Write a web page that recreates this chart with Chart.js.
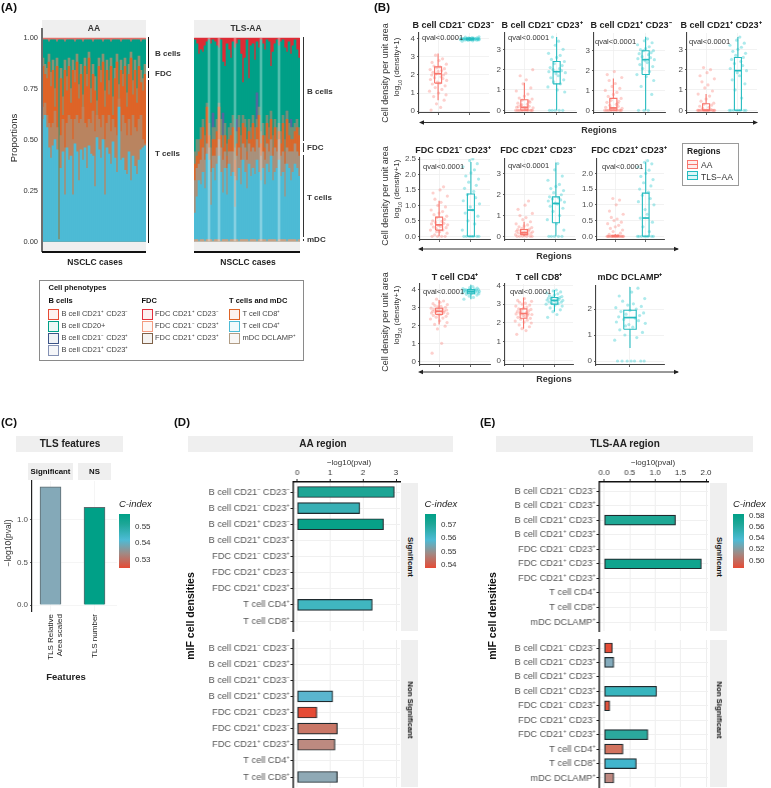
<!DOCTYPE html>
<html><head><meta charset="utf-8">
<style>
html,body{margin:0;padding:0;background:#fff}
#root{position:relative;width:771px;height:788px;overflow:hidden;font-family:"Liberation Sans",Arial,sans-serif;filter:blur(0.35px)}
#root canvas{position:absolute;display:block}
#root canvas.soft{filter:blur(0.65px)}
.t{position:absolute;white-space:nowrap;line-height:1}
.b{position:absolute}
</style>
<script src="https://cdn.jsdelivr.net/npm/chart.js@4"></script>
</head><body><div id="root"></div>
<script>
/* ---------- Panel A: cumulative proportions (%), one value per case ---------- */
const aaCD4=[60,62,56,46,41,47,50,45,1,36,44,23,46,40,42,23,48,44,30,45,40,46,36,47,43,42,27,51,45,41,50,23,46,43,38,49,41,34,66,40,41,35,33,44,30,42,37,33,40,45,46,47];
const aaMixLow=[66,68,62,58,56,58,64,56,1,52,60,46,58,62,60,50,60,62,58,60,66,58,56,60,58,64,54,62,60,56,62,50,58,62,54,60,56,52,70,54,62,58,52,60,52,62,56,54,60,62,50,48];
const aaCD8=[86,82,80,88,76,84,66,86,1,80,62,84,74,86,68,84,78,88,70,82,64,86,76,90,68,82,74,60,86,78,88,66,84,72,86,62,80,88,70,84,76,86,66,82,90,72,84,68,86,78,74,82];
const aaMixHigh=[90,87,85,92,83,89,75,90,1,85,71,89,81,90,75,89,84,92,77,87,72,90,82,93,75,87,81,69,90,84,92,74,89,79,90,71,85,92,77,89,82,90,73,87,93,79,89,75,91,84,80,87];
const aaCD20=[99,99,99,98,99,99,99,98,99,99,99,98,99,99,99,99,98,99,99,99,98,99,99,99,99,98,99,99,99,99,98,99,99,99,98,99,99,99,99,98,99,99,99,99,98,99,99,99,99,98,99,99];
const tlsCD4=[14,22,30,28,34,26,43,40,18,36,30,38,42,34,24,36,23,38,32,34,17,30,36,28,40,34,26,38,32,36,33,40,34,30,36,28,38,34,42,30,34,36,40,32,34,22,38,36,30,34,38,36,32];
const tlsMixLow=[30,36,38,40,46,40,48,46,34,42,42,46,50,46,40,44,36,44,44,44,32,42,46,40,48,46,40,48,44,46,44,50,46,42,44,40,48,44,50,42,46,44,50,42,44,38,46,44,44,44,48,44,42];
const tlsCD8=[38,42,44,50,56,46,66,52,40,50,50,54,66,52,46,52,42,50,52,56,40,48,56,46,58,56,44,54,50,58,50,56,62,48,52,46,58,50,60,46,56,50,54,48,58,44,60,52,50,50,54,56,52];
const tlsMixHigh=[44,50,50,56,60,52,68,58,46,56,56,60,68,60,52,58,48,56,58,62,46,54,62,52,62,60,50,60,56,62,56,60,66,54,58,52,62,56,64,52,60,56,58,54,62,50,64,58,56,56,58,60,56];
const tlsNavy=[0,0,0,0,0,0,0,0,0,63,0,0,0,0,63,0,0,0,0,0,0,60,0,0,0,0,0,0,0,0,44,73,0,0,0,0,0,0,0,0,0,0,0,0,0,0,64,0,60,0,0,0,0];
const tlsCD20=[99,97,92,94,93,96,98,99,97,99,98,96,95,99,88,86,97,94,90,98,95,97,99,92,78,90,99,80,96,97,89,98,95,99,97,94,99,98,86,93,97,99,96,98,99,95,93,98,92,96,99,94,90];
const tlsPale=[0,0,0,0,0,0,0,100,0,0,0,0,100,0,0,0,0,0,0,0,100,0,0,0,0,0,0,0,0,0,0,0,0,100,0,0,0,0,0,0,0,0,100,0,0,0,0,0,0,0,0,0,0];
const tlsMdc=[1,1,0,1,1,0,1,1,1,0,1,1,1,0,1,1,1,0,1,1,1,1,0,1,1,1,1,0,1,1,1,0,1,1,1,1,0,1,1,1,1,0,1,1,1,1,0,1,1,1,1,0,1];
const propTicks=[0,0.25,0.5,0.75,1];

/* ---------- Panel B: [min, q1, median, q3, max] and read-off points ---------- */
const jitter=[-.22,.08,-.05,.19,-.14,.25,.02,-.27,.12,-.09,.22,-.18,.05,-.02,.27,-.24,.15,-.11,.09,-.2,.17,-.07,.24,-.16,0,.11,-.25,.2,-.04,.06,-.13,.26,-.19,.03,.14,-.08];
const bnnAABox=[.6,1.55,2.07,2.45,3.2], bnnTLSBox=[3.9,3.95,4,4.05,4.1];
const bnnAAPts=[.05,.2,.4,.6,.8,.9,1,1.1,1.2,1.3,1.4,1.5,1.55,1.6,1.7,1.75,1.8,1.85,1.9,2,2,2.05,2.1,2.15,2.2,2.25,2.3,2.35,2.4,2.45,2.5,2.6,2.7,2.8,2.9,3.1];
const bnnTLSPts=[3.88,3.9,3.92,3.93,3.94,3.95,3.95,3.96,3.96,3.97,3.97,3.98,3.98,3.99,3.99,4,4,4,4.01,4.01,4.02,4.02,4.03,4.03,4.04,4.05,4.05,4.06,4.07,4.08,4.1,4.12];
const bnpAABox=[0,0,.15,.52,1.35], bnpTLSBox=[0,1.3,1.9,2.4,3.6];
const bnpAAPts=[0,0,0,0,0,0,0,0,0,0,0,0,.05,.1,.12,.15,.2,.25,.3,.35,.4,.5,.55,.6,.7,.8,.95,1.1,1.3,1.5,1.7,2,.18,.08,.45,.28];
const bnpTLSPts=[0,0,0,0,0,.9,1,1.15,1.3,1.4,1.5,1.6,1.7,1.8,1.85,1.9,1.95,2,2.05,2.1,2.2,2.3,2.4,2.5,2.6,2.7,2.8,3,3.2,3.4,3.6];
const bpnAABox=[0,0,.12,.6,1.6], bpnTLSBox=[0,1.8,2.55,3,3.7];
const bpnAAPts=[0,0,0,0,0,0,0,0,0,0,0,0,.05,.08,.1,.15,.2,.25,.3,.4,.45,.5,.6,.7,.8,.9,1,1.1,1.2,1.35,1.5,1.65,1.8,1.95,.35,.12];
const bpnTLSPts=[0,0,0,.8,1.2,1.5,1.7,1.8,1.95,2.1,2.2,2.3,2.4,2.5,2.55,2.6,2.65,2.7,2.8,2.85,2.9,3,3,3.05,3.1,3.2,3.3,3.4,3.5,3.6];
const bppAABox=[0,0,0,.32,.8], bppTLSBox=[0,0,1.95,2.6,3.6];
const bppAAPts=[0,0,0,0,0,0,0,0,0,0,0,0,0,0,0,0,.05,.1,.15,.2,.25,.3,.35,.45,.55,.7,.8,.95,1.1,1.25,1.4,1.55,1.7,1.85,2,2.1];
const bppTLSPts=[0,0,0,0,0,0,0,0,.6,1,1.3,1.5,1.7,1.85,1.95,2.05,2.2,2.3,2.4,2.5,2.6,2.7,2.8,2.9,3,3.1,3.2,3.3,3.45,3.6];
const fnpAABox=[0,.2,.37,.62,1.15], fnpTLSBox=[0,0,.85,1.37,2.4];
const fnpAAPts=[0,0,0,0,.05,.1,.15,.2,.2,.25,.28,.3,.32,.35,.37,.4,.42,.45,.48,.5,.55,.6,.65,.7,.75,.8,.85,.95,1,1.1,1.2,1.3,1.4,1.5,1.6,.15];
const fnpTLSPts=[0,0,0,0,0,0,0,.2,.4,.5,.65,.75,.85,.95,1.05,1.15,1.25,1.35,1.45,1.55,1.65,1.75,1.85,1.95,2.05,2.15,2.25,2.35,2.45,2.5];
const fpnAABox=[0,.08,.17,.33,.7], fpnTLSBox=[0,.65,1.58,1.9,3.55];
const fpnAAPts=[0,0,0,0,0,0,.05,.08,.1,.12,.14,.16,.18,.2,.22,.24,.26,.28,.3,.32,.35,.38,.42,.46,.5,.55,.6,.7,.8,.9,1,1.1,1.3,1.5,1.7,.15];
const fpnTLSPts=[0,0,0,0,0,.3,.6,.8,1,1.2,1.35,1.45,1.55,1.6,1.65,1.7,1.75,1.8,1.85,1.9,2,2.1,2.2,2.3,2.4,2.5,2.7,2.9,3.2,3.5];
const fppAABox=[0,0,0,.03,.07], fppTLSBox=[0,0,.58,1.37,2.35];
const fppAAPts=[0,0,0,0,0,0,0,0,0,0,0,0,0,0,0,0,0,0,.03,.06,.1,.15,.2,.25,.3,.35,.4,.45,.5,.55,.6,.7,.8,1,1.15,1.2];
const fppTLSPts=[0,0,0,0,0,0,0,0,.15,.3,.45,.58,.7,.85,1,1.1,1.2,1.3,1.4,1.5,1.6,1.7,1.8,1.9,2,2.1,2.2,2.3,2.35,2.4];
const cd4AABox=[2.05,2.6,2.78,2.95,3.4], cd4TLSBox=[3.45,3.75,3.87,3.98,4.25];
const cd4AAPts=[.45,1,1.8,1.95,2.05,2.15,2.25,2.35,2.4,2.45,2.5,2.55,2.6,2.62,2.65,2.68,2.7,2.72,2.75,2.78,2.8,2.82,2.85,2.88,2.9,2.92,2.95,3,3.02,3.05,3.1,3.15,3.2,3.28,3.35,3.45];
const cd4TLSPts=[3.45,3.55,3.62,3.68,3.72,3.75,3.77,3.79,3.8,3.82,3.84,3.85,3.86,3.87,3.88,3.9,3.91,3.92,3.94,3.95,3.96,3.97,3.98,3.99,4,4.02,4.04,4.07,4.1,4.15];
const cd8AABox=[1.7,2.25,2.5,2.75,3.35], cd8TLSBox=[2.6,3,3.2,3.35,3.75];
const cd8AAPts=[1.4,1.6,1.7,1.8,1.9,2,2.05,2.1,2.15,2.2,2.25,2.3,2.35,2.4,2.45,2.48,2.5,2.52,2.55,2.6,2.65,2.7,2.72,2.75,2.8,2.85,2.9,2.95,3,3.05,3.1,3.15,3.2,3.3,2.42,2.58];
const cd8TLSPts=[2.3,2.45,2.6,2.7,2.8,2.9,2.95,3,3.02,3.05,3.1,3.12,3.15,3.18,3.2,3.22,3.25,3.28,3.3,3.32,3.35,3.38,3.4,3.45,3.5,3.55,3.6,3.65,3.7,3.75];
const mdcTLSBox=[.5,1.22,1.67,1.95,2.85];
const mdcTLSPts=[0,0,0,0,0,0,0,.8,.9,1,1.1,1.2,1.3,1.4,1.45,1.5,1.55,1.6,1.65,1.7,1.75,1.8,1.85,1.9,1.95,2,2.05,2.1,2.15,2.2,2.3,2.4,2.5,2.65,2.8,1.35];

/* ---------- Panels C, D, E ---------- */
const tlsFeatures=[["TLS Relative","Area scaled"],"TLS number"];
const tlsFeatureVals=[1.39,1.15];
const tlsFeatureCols=["#84A9B8","#00A087"];
const rowsD=["B cell CD21⁻ CD23⁻","B cell CD21⁻ CD23⁺","B cell CD21⁺ CD23⁻","B cell CD21⁺ CD23⁺","FDC CD21⁻ CD23⁺","FDC CD21⁺ CD23⁻","FDC CD21⁺ CD23⁺","T cell CD4⁺","T cell CD8⁺"];
const aaSig=[2.95,1.9,2.62,null,null,null,null,2.28,null];
const aaSigCols=["#1DA595","#38B0B5","#07A188",null,null,null,null,"#40B6C0",null];
const aaNon=[null,null,null,1.08,.6,1.22,1.15,null,1.22];
const aaNonCols=[null,null,null,"#5AB5CE","#E64B35","#C97767","#BD8A80",null,"#8FA9B5"];
const rowsE=[...rowsD,"mDC DCLAMP⁺"];
const tlsSig=[null,null,1.4,null,null,1.91,null,null,null,null];
const tlsSigCols=[null,null,"#1EA895",null,null,"#0FA48E",null,null,null,null];
const tlsNon=[.16,.19,null,1.03,.11,null,.86,.37,.63,.19];
const tlsNonCols=["#E64B35","#84ABBC",null,"#38B5BE","#E2523C",null,"#2BA99D","#D2735F","#41B5CC","#BE8880"];

/* ---------- helpers ---------- */
const root=document.getElementById('root');
const FONT='"Liberation Sans",Arial,sans-serif';
Chart.defaults.font.family=FONT;
function T(s,x,y,o={}){const d=document.createElement('div');d.className='t';d.textContent=s;
 const a=o.a==null?'l':o.a,tx=a==='c'?'-50%':a==='r'?'-100%':'0';
 d.style.cssText=`left:${x}px;top:${y}px;font-size:${o.s||8}px;color:${o.c||'#333'};font-weight:${o.b?'bold':'normal'};font-style:${o.i?'italic':'normal'};transform:translate(${tx},-50%)${o.r?` rotate(${o.r}deg)`:''};`;
 root.appendChild(d);return d}
function B(x,y,w,h,c,extra){const d=document.createElement('div');d.className='b';d.style.cssText=`left:${x}px;top:${y}px;width:${w}px;height:${h}px;background:${c};${extra||''}`;root.appendChild(d);return d}
function cv(l,t,w,h){const c=document.createElement('canvas');c.width=w;c.height=h;c.style.left=l+'px';c.style.top=t+'px';c.style.width=w+'px';c.style.height=h+'px';root.appendChild(c);return c}
const base={responsive:false,animation:false,events:[],devicePixelRatio:1,plugins:{legend:{display:false},tooltip:{enabled:false}}};
function cal(v1,p1,v2,p2,pa,pb){const k=(v2-v1)/(p2-p1);return [v1+(pa-p1)*k,v1+(pb-p1)*k]}

/* ---------- Panel A ---------- */
function propChart(l,r,withAxis,layers,n){
 const gut=withAxis?26:0;
 const c=cv(l-gut,30,r-l+gut,220);
 c.className='soft';
 const labels=Array.from({length:n},(_,i)=>'case '+(i+1));
 new Chart(c,{type:'bar',data:{labels,datasets:layers.map(L=>({data:L.d.map(v=>v/100),backgroundColor:L.c,grouped:false,barPercentage:1,categoryPercentage:1,borderWidth:0,order:L.o}))},
 options:{...base,layout:{padding:{top:7.7,right:0,bottom:0,left:0}},scales:{
  x:{type:'category',display:true,offset:true,grid:{display:false,drawTicks:false},border:{display:false},ticks:{display:false},afterFit:a=>{a.height=8.3}},
  y:{min:0,max:1,display:withAxis,grid:{display:false,tickLength:3,tickColor:'#555'},border:{display:false},afterBuildTicks:a=>{a.ticks=propTicks.map(v=>({value:v}))},ticks:{font:{size:7.5},color:'#333',padding:1,callback:v=>v.toFixed(2)},afterFit:a=>{a.width=gut}}}}});
}
const full=n=>Array(n).fill(100);
B(42,20,104,17.5,'#EFEFEF');B(42,242,104,10,'#EFEFEF');
B(194,20,106,17.5,'#EFEFEF');B(194,242,106,10,'#EFEFEF');
propChart(42,146,true,[{d:aaCD4,c:'#4DBBD5',o:1},{d:aaMixLow,c:'#B98460',o:2},{d:aaCD8,c:'#DE6427',o:3},{d:aaMixHigh,c:'#8C9273',o:4},{d:aaCD20,c:'#00A087',o:5},{d:full(52),c:'#E2706A',o:6}],52);
propChart(194,300,false,[{d:tlsPale,c:'rgba(255,255,255,.32)',o:0},{d:tlsMdc,c:'#C9A184',o:.5},{d:tlsCD4,c:'#4DBBD5',o:1},{d:tlsMixLow,c:'#A8917C',o:2},{d:tlsCD8,c:'#D9682C',o:3},{d:tlsMixHigh,c:'#6F9078',o:4},{d:tlsNavy,c:'#53689E',o:4.5},{d:tlsCD20,c:'#00A087',o:5},{d:full(53),c:'#DE2A35',o:6}],53);
B(41,28,1.6,224,'#6E6E6E');
B(42,251.2,104,1.6,'#111');B(194,251.2,106,1.6,'#111');
T('AA',94,28,{s:8.5,b:1,a:'c'});T('TLS-AA',246,28,{s:8.5,b:1,a:'c'});
T('Proportions',13.5,138,{s:9.5,a:'c',r:-90,c:'#222'});
T('NSCLC cases',95,262,{s:8.5,b:1,a:'c',c:'#222'});T('NSCLC cases',248,262,{s:8.5,b:1,a:'c',c:'#222'});
[[37,31],[70.5,7],[80,163]].forEach(s=>B(147.5,s[0],1.8,s[1],'#111'));
[[37,104],[143,9],[155,82],[239,2]].forEach(s=>B(302.5,s[0],1.8,s[1],'#333'));
T('B cells',155,54,{s:8,b:1});T('FDC',155,73.5,{s:8,b:1});T('T cells',155,154,{s:8,b:1});
T('B cells',307,92,{s:8,b:1});T('FDC',307,147.5,{s:8,b:1});T('T cells',307,197.5,{s:8,b:1});T('mDC',307,240,{s:8,b:1});
/* legend */
B(38.5,279.5,263,79.5,'#fff','border:1px solid #8A8A8A;box-sizing:content-box');
T('Cell phenotypes',48.5,288,{s:7.5,b:1,c:'#111'});
T('B cells',48.5,301,{s:7.5,b:1,c:'#111'});T('FDC',141.5,301,{s:7.5,b:1,c:'#111'});T('T cells and mDC',229,301,{s:7.5,b:1,c:'#111'});
const legRows=[314,326,338,350];
function swatch(x,y,c){B(x,y-5,9,9,c+'14',`border:1px solid ${c};`)}
[['B cell CD21⁺ CD23⁻','#E64B35'],['B cell CD20+','#00A087'],['B cell CD21⁻ CD23⁺','#3C5488'],['B cell CD21⁺ CD23⁺','#8491B4']].forEach((e,i)=>{swatch(47.5,legRows[i],e[1]);T(e[0],61.5,legRows[i],{s:7.5,c:'#444'})});
[['FDC CD21⁺ CD23⁻','#E3303E'],['FDC CD21⁻ CD23⁺','#F39B7F'],['FDC CD21⁺ CD23⁺','#7E6148']].forEach((e,i)=>{swatch(141.5,legRows[i],e[1]);T(e[0],155,legRows[i],{s:7.5,c:'#444'})});
[['T cell CD8⁺','#DE6427'],['T cell CD4⁺','#4DBBD5'],['mDC DCLAMP⁺','#B09C85']].forEach((e,i)=>{swatch(228.5,legRows[i],e[1]);T(e[0],242.5,legRows[i],{s:7.5,c:'#444'})});

/* ---------- Panel B ---------- */
const AAc='#F8766D',TLc='#26BCC0',AAp='rgba(248,118,109,.34)',TLp='rgba(0,191,196,.32)';
function boxSets(cx,st,pts,col,ptc,jw){const w=.11,[lo,q1,md,q3,hi]=st;
 const ln=(data,bw)=>({data,showLine:true,borderColor:col,borderWidth:bw,pointRadius:0,fill:false,order:1});
 return [ln([{x:cx-w,y:q1},{x:cx+w,y:q1},{x:cx+w,y:q3},{x:cx-w,y:q3},{x:cx-w,y:q1}],1.1),
  ln([{x:cx-w,y:md},{x:cx+w,y:md}],1.7),ln([{x:cx,y:lo},{x:cx,y:q1}],1.1),ln([{x:cx,y:q3},{x:cx,y:hi}],1.1),
  {data:pts.map((v,i)=>({x:cx+jitter[i%jitter.length]*jw,y:v})),showLine:false,pointRadius:1.6,pointBorderWidth:0,pointBackgroundColor:ptc,order:2}];}
function boxPanel(P){const {l,r,top,bot,y,ticks,dec,groups,single}=P;
 const gl=24,pad=8;const c=cv(l-gl,top-pad,r-l+gl+pad,bot-top+pad*2);
 const [ymin,ymax]=cal(y[0],y[1],y[2],y[3],bot,top);
 const xticks=single?[1]:[1,2];const xr=single?[.4,1.6]:[.4,2.6];
 let ds=[];groups.forEach(g=>{ds=ds.concat(boxSets(g.x,g.box,g.pts,g.aa?AAc:TLc,g.aa?AAp:TLp,g.jw||1))});
 new Chart(c,{type:'scatter',data:{datasets:ds},options:{...base,layout:{padding:{top:pad,right:pad,bottom:0,left:0}},scales:{
  x:{type:'linear',min:xr[0],max:xr[1],grid:{color:'#EFEFEF',lineWidth:.8,tickLength:2,tickColor:'#333'},border:{color:'#444',width:1.1},afterBuildTicks:a=>{a.ticks=xticks.map(v=>({value:v}))},ticks:{autoSkip:false,maxRotation:0,padding:0,callback:()=>''},afterFit:a=>{a.height=pad}},
  y:{type:'linear',min:ymin,max:ymax,grid:{color:'#EFEFEF',lineWidth:.8,tickLength:2,tickColor:'#333'},border:{color:'#444',width:1.1},afterBuildTicks:a=>{a.ticks=ticks.map(v=>({value:v}))},ticks:{autoSkip:false,font:{size:8},color:'#4D4D4D',padding:2,callback:v=>dec?v.toFixed(1):String(v)},afterFit:a=>{a.width=gl}}}}});
}
const two=(aBox,aPts,tBox,tPts,jt)=>[{x:2,box:tBox,pts:tPts,aa:false,jw:jt||1},{x:1,box:aBox,pts:aPts,aa:true}];
boxPanel({l:419,r:489,top:33,bot:113,y:[0,111,4,39],ticks:[0,1,2,3,4],groups:two(bnnAABox,bnnAAPts,bnnTLSBox,bnnTLSPts,1.1)});
boxPanel({l:505,r:576,top:33,bot:113,y:[0,110.3,3,49.3],ticks:[0,1,2,3],groups:two(bnpAABox,bnpAAPts,bnpTLSBox,bnpTLSPts)});
boxPanel({l:594,r:665,top:33,bot:113,y:[0,110.3,3,50.7],ticks:[0,1,2,3],groups:two(bpnAABox,bpnAAPts,bpnTLSBox,bpnTLSPts)});
boxPanel({l:687,r:757,top:33,bot:113,y:[0,110.3,3,49.3],ticks:[0,1,2,3],groups:two(bppAABox,bppAAPts,bppTLSBox,bppTLSPts)});
boxPanel({l:420,r:490,top:158,bot:240,y:[0,236.3,2.5,159],ticks:[0,.5,1,1.5,2,2.5],dec:1,groups:two(fnpAABox,fnpAAPts,fnpTLSBox,fnpTLSPts)});
boxPanel({l:505,r:575,top:159,bot:240,y:[0,236.3,3,174],ticks:[0,1,2,3],groups:two(fpnAABox,fpnAAPts,fpnTLSBox,fpnTLSPts)});
boxPanel({l:597,r:664,top:159,bot:240,y:[0,236.3,2,173.3],ticks:[0,.5,1,1.5,2],dec:1,groups:two(fppAABox,fppAAPts,fppTLSBox,fppTLSPts)});
boxPanel({l:420,r:490,top:284,bot:365,y:[0,361.3,4,289.3],ticks:[0,1,2,3,4],groups:two(cd4AABox,cd4AAPts,cd4TLSBox,cd4TLSPts)});
boxPanel({l:505,r:573,top:284,bot:365,y:[0,360.7,4,285.3],ticks:[0,1,2,3,4],groups:two(cd8AABox,cd8AAPts,cd8TLSBox,cd8TLSPts)});
boxPanel({l:596,r:664,top:286,bot:365,y:[0,361,2,309],ticks:[0,1,2],single:true,groups:[{x:1,box:mdcTLSBox,pts:mdcTLSPts,aa:false}]});
[["B cell CD21⁻ CD23⁻",453,25],["B cell CD21⁻ CD23⁺",542,25],["B cell CD21⁺ CD23⁻",631,25],["B cell CD21⁺ CD23⁺",721,25],
 ["FDC CD21⁻ CD23⁺",453,150],["FDC CD21⁺ CD23⁻",538,150],["FDC CD21⁺ CD23⁺",629,150],
 ["T cell CD4⁺",455,277],["T cell CD8⁺",539,277],["mDC DCLAMP⁺",630,277]].forEach(a=>T(a[0],a[1],a[2],{s:9,b:1,a:'c',c:'#222'}));
[[422,38],[508,38],[595,42],[689,42],[423,167],[508,166],[602,167],[423,292],[510,292]].forEach(a=>T('qval<0.0001',a[0],a[1],{s:7.5,c:'#333'}));
[[385,73,397,67],[385,196,397,189],[385,322,397,315]].forEach(a=>{T('Cell density per unit area',a[0],a[1],{s:9,a:'c',r:-90,c:'#333'});
 const d=T('',a[2],a[3],{s:8,a:'c',r:-90,c:'#333'});d.innerHTML='log<sub style="font-size:5.5px;line-height:0">10</sub> (density+1)';});
T('Regions',599,130,{s:9,b:1,a:'c'});T('Regions',554,256,{s:9,b:1,a:'c'});T('Regions',554,379,{s:9,b:1,a:'c'});
const svgNS='http://www.w3.org/2000/svg';
const sv=document.createElementNS(svgNS,'svg');sv.setAttribute('width',771);sv.setAttribute('height',788);sv.style.cssText='position:absolute;left:0;top:0;pointer-events:none';
let svh='';[[421,757,122.5],[420,678,249],[420,678,372]].forEach(a=>{svh+=`<line x1="${a[0]}" x2="${a[1]}" y1="${a[2]}" y2="${a[2]}" stroke="#333" stroke-width="1"/><path d="M${a[0]-2} ${a[2]} l5 -2.2 v4.4z M${a[1]+1} ${a[2]} l-5 -2.2 v4.4z" fill="#222"/>`});
sv.innerHTML=svh;root.appendChild(sv);
B(682,143,57,43,'#fff','border:1px solid #9A9A9A;box-sizing:border-box');
T('Regions',687,151,{s:8.5,b:1,c:'#222'});
B(687,160,9,7,'#F8766D22','border:1px solid #F8766D;');B(687,171,9,7,'#00BFC422','border:1px solid #26BCC0;');
B(687,164,10,1,'#F8766D');B(687,175,10,1,'#26BCC0');
T('AA',701,165,{s:8.5});T('TLS−AA',701,176.5,{s:8.5});

/* ---------- C-index legends ---------- */
function ciLegend(x,tx,labels){T('C-index',x,504,{s:9.5,i:1,c:'#222'});
 B(x,513.5,11,54.5,'linear-gradient(to top,#E64B35 0%,#A08A85 27%,#4DBBD5 52%,#1CA696 82%,#00A087 100%)');
 labels.forEach(a=>T(a[0],tx,a[1],{s:8,c:'#333'}));}
ciLegend(119,135,[['0.55',527],['0.54',543],['0.53',560]]);
ciLegend(424.5,441,[['0.57',525],['0.56',538],['0.55',552],['0.54',565]]);
ciLegend(733,749,[['0.58',516],['0.56',527],['0.54',538],['0.52',549],['0.50',561]]);

/* ---------- Panel C ---------- */
B(16,436,106.5,16,'#EFEFEF');T('TLS features',70,444,{s:10,b:1,a:'c',c:'#222'});
B(28,463,45,17,'#EFEFEF');T('Significant',50.5,472,{s:7.8,b:1,a:'c',c:'#111'});
B(78,463,33,17,'#EFEFEF');T('NS',94.5,472,{s:7.8,b:1,a:'c',c:'#111'});
(function(){const l=32,r=117,top=481,bot=611,gl=20,gb=52,pad=8;
 const c=cv(l-gl,top-pad,r-l+gl+pad,bot-top+pad+gb);
 const [ymin,ymax]=cal(0,605,1,520,bot,top);const [xmin,xmax]=cal(1,50.5,2,94.5,l,r);
 new Chart(c,{type:'bar',data:{datasets:[{data:tlsFeatureVals.map((v,i)=>({x:i+1,y:v})),backgroundColor:tlsFeatureCols,borderColor:'#5E6B70',borderWidth:1,barThickness:21}]},
 options:{...base,layout:{padding:{top:pad,right:pad,bottom:0,left:0}},scales:{
  x:{type:'linear',offset:false,min:xmin,max:xmax,grid:{offset:false,color:'#F2F2F2',lineWidth:.8,drawTicks:false},border:{display:false},afterBuildTicks:a=>{a.ticks=[{value:1},{value:2}]},ticks:{autoSkip:false,minRotation:90,maxRotation:90,font:{size:8},color:'#222',padding:3,callback:v=>tlsFeatures[v-1]},afterFit:a=>{a.height=gb}},
  y:{type:'linear',min:ymin,max:ymax,grid:{color:'#F2F2F2',lineWidth:.8,tickLength:2,tickColor:'#333'},border:{color:'#222',width:1.2},afterBuildTicks:a=>{a.ticks=[0,.5,1].map(v=>({value:v}))},ticks:{autoSkip:false,font:{size:8},color:'#4D4D4D',padding:2,callback:v=>v.toFixed(1)},afterFit:a=>{a.width=gl}}}}});
})();
T('−log10(pval)',8,543,{s:8.5,a:'c',r:-90});
T('Features',66,677,{s:9.5,b:1,a:'c',c:'#222'});

/* ---------- Panels D & E ---------- */
function barPanel(P){const {l,r,top,bot,xc,row,labels,vals,cols,th,ticks,dec,topAxis}=P;
 const gl=102,pad=8,ga=topAxis?22:pad;
 const c=cv(l-gl,top-ga,r-l+gl+pad,bot-top+ga+pad);
 const [xmin,xmax]=cal(xc[0],xc[1],xc[2],xc[3],l,r);
 const N=labels.length,[ymin,ymax]=cal(1,row[0],N,row[1],top,bot);
 new Chart(c,{type:'bar',data:{datasets:[{data:vals.map((v,i)=>({x:v,y:i+1})),backgroundColor:cols,borderColor:'#1F2A2E',borderWidth:1.2,borderSkipped:false,barThickness:th}]},
 options:{...base,indexAxis:'y',layout:{padding:{top:topAxis?0:pad,right:pad,bottom:topAxis?pad:0,left:0}},scales:{
  x:{type:'linear',position:topAxis?'top':'bottom',min:xmin,max:xmax,grid:{color:'#EEEEEE',lineWidth:1,tickLength:topAxis?3:0,tickColor:'#222'},border:{display:topAxis,color:'#111',width:1.4},afterBuildTicks:a=>{a.ticks=ticks.map(v=>({value:v}))},ticks:{display:topAxis,autoSkip:false,maxRotation:0,font:{size:8},color:'#333',padding:1,callback:v=>dec?v.toFixed(1):String(v)},afterFit:a=>{a.height=topAxis?ga:pad}},
  y:{type:'linear',offset:false,reverse:true,min:ymin,max:ymax,grid:{offset:false,color:'#F0F0F0',lineWidth:1,tickLength:3,tickColor:'#222'},border:{color:'#111',width:1.4},afterBuildTicks:a=>{a.ticks=labels.map((_,i)=>({value:i+1}))},ticks:{autoSkip:false,font:{size:9.2},color:'#555',padding:1,callback:v=>labels[v-1]},afterFit:a=>{a.width=gl}}}}});
}
B(188,436,265,16,'#EFEFEF');T('AA region',323,444,{s:10,b:1,a:'c',c:'#222'});
T('−log10(pval)',349,463,{s:8,a:'c'});
barPanel({l:293.3,r:400,top:482,bot:631,xc:[0,297,3,396],row:[492,621],labels:rowsD,vals:aaSig,cols:aaSigCols,th:11,ticks:[0,1,2,3],topAxis:true});
barPanel({l:293.3,r:400,top:640,bot:787,xc:[0,297,3,396],row:[648,777],labels:rowsD,vals:aaNon,cols:aaNonCols,th:11,ticks:[0,1,2,3],topAxis:false});
B(401,483,17,148,'#EFEFEF');B(401,640,17,147,'#EFEFEF');
T('Significant',409.5,557,{s:7.8,b:1,a:'c',r:90,c:'#111'});T('Non Significant',409.5,710,{s:7.8,b:1,a:'c',r:90,c:'#111'});
T('mIF cell densities',190,616,{s:10.5,b:1,a:'c',r:-90,c:'#111'});

B(496,436,257,16,'#EFEFEF');T('TLS-AA region',625,444,{s:10,b:1,a:'c',c:'#222'});
T('−log10(pval)',653,463,{s:8,a:'c'});
barPanel({l:599.3,r:708,top:482,bot:631,xc:[0,604,2,706],row:[491,622],labels:rowsE,vals:tlsSig,cols:tlsSigCols,th:10,ticks:[0,.5,1,1.5,2],dec:1,topAxis:true});
barPanel({l:599.3,r:708,top:640,bot:787,xc:[0,604,2,706],row:[648,778],labels:rowsE,vals:tlsNon,cols:tlsNonCols,th:10,ticks:[0,.5,1,1.5,2],dec:1,topAxis:false});
B(710,483,17,148,'#EFEFEF');B(710,640,17,147,'#EFEFEF');
T('Significant',718.5,557,{s:7.8,b:1,a:'c',r:90,c:'#111'});T('Non Significant',718.5,710,{s:7.8,b:1,a:'c',r:90,c:'#111'});
T('mIF cell densities',492,616,{s:10.5,b:1,a:'c',r:-90,c:'#111'});

/* panel tags */
[['(A)',1,8],['(B)',374,8],['(C)',1,423],['(D)',174,423],['(E)',480,423]].forEach(a=>T(a[0],a[1],a[2],{s:11.5,b:1,c:'#111'}));
</script></body></html>
